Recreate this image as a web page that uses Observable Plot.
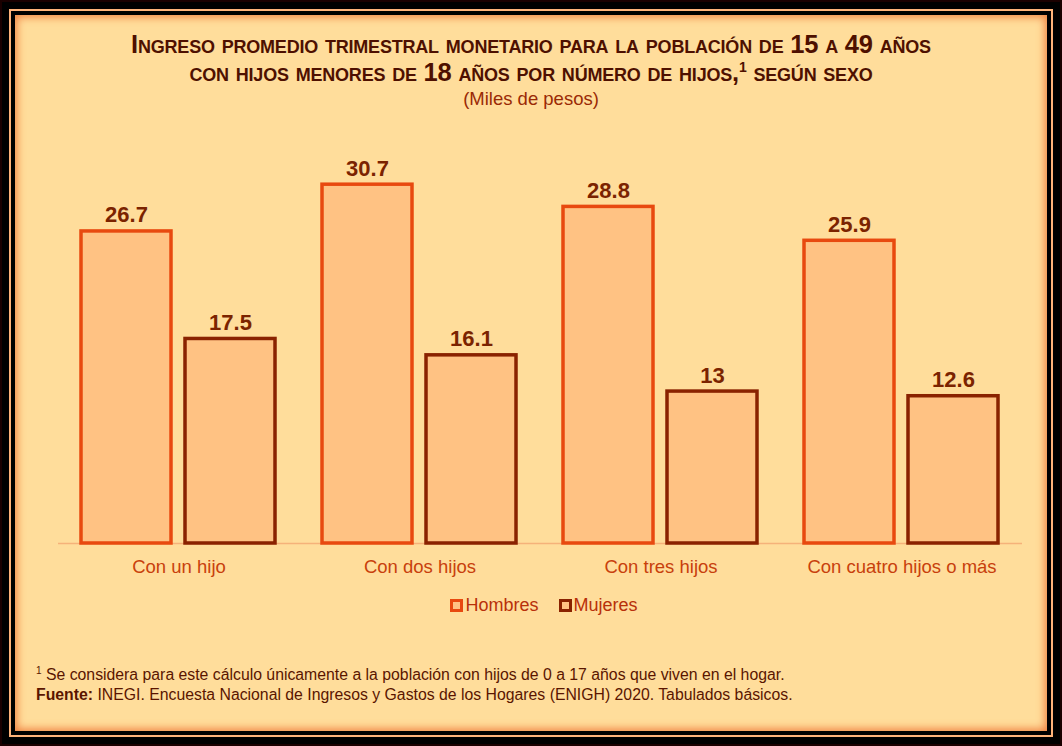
<!DOCTYPE html>
<html>
<head>
<meta charset="utf-8">
<script src="https://cdn.jsdelivr.net/npm/d3@7"></script>
<script src="https://cdn.jsdelivr.net/npm/@observablehq/plot@0.6"></script>
<style>
  html, body { margin: 0; padding: 0; width: 1062px; height: 746px; overflow: hidden; background: #1a0000; font-family: "Liberation Sans", Arial, sans-serif; }
  #frame { position: absolute; left: 2px; top: 2px; width: 1058px; height: 742px; background: #000; }
  #line { position: absolute; left: 7px; top: 7px; right: 7px; bottom: 7px; border: 2px solid #ffb37a; background: #000; }
  #panel { position: absolute; left: 15px; top: 15px; width: 1032px; height: 716px; background: #ffdd9b; box-shadow: inset 0 0 8px 2px #f08040; overflow: hidden; }
  .abs { position: absolute; white-space: nowrap; }
  #pre { left: 0; width: 1062px; text-align: center; top: 1px; font-size: 15px; font-weight: bold; color: #5a1200; clip-path: inset(14px 0 0 0); }
  .title { left: 0; width: 1062px; text-align: center; font-weight: bold; font-variant: small-caps; color: #4e1000; font-size: 25.5px; letter-spacing: -0.2px; }
  #sub { left: 0; width: 1062px; text-align: center; top: 88px; font-size: 18.5px; color: #9a2a05; }
  #legend { left: 13px; width: 1062px; text-align: center; top: 595px; font-size: 18px; color: #b8300a; }
  .sw { display: inline-block; width: 7px; height: 7px; border: 3px solid; background: #ffc283; vertical-align: -1px; margin-right: 2px; }
  .foot { left: 36px; font-size: 15.8px; color: #5a1500; }
  #chart { position: absolute; left: 0; top: 110px; }
</style>
</head>
<body>
<div id="frame"><div id="line"></div></div>
<div id="panel"></div>
<div class="abs" id="pre">Gráfica 5</div>
<div class="abs title" style="top:30px">Ingreso promedio trimestral monetario para la población de 15 a 49 años</div>
<div class="abs title" style="top:58px">con hijos menores de 18 años por número de hijos,<sup style="font-size:14px">1</sup> según sexo</div>
<div class="abs" id="sub">(Miles de pesos)</div>
<div id="chart"></div>
<div class="abs" id="legend"><span class="sw" style="border-color:#e8490f"></span>Hombres&nbsp;&nbsp;&nbsp;&nbsp;<span class="sw" style="border-color:#8a2200"></span>Mujeres</div>
<div class="abs foot" style="top:665px"><sup style="font-size:10px">1</sup> Se considera para este cálculo únicamente a la población con hijos de 0 a 17 años que viven en el hogar.</div>
<div class="abs foot" style="top:686px"><b>Fuente:</b> INEGI. Encuesta Nacional de Ingresos y Gastos de los Hogares (ENIGH) 2020. Tabulados básicos.</div>
<script>
const categories = ["Con un hijo", "Con dos hijos", "Con tres hijos", "Con cuatro hijos o más"];
const sexes = ["Hombres", "Mujeres"];
const hombres = [26.7, 30.7, 28.8, 25.9];
const mujeres = [17.5, 16.1, 13, 12.6];
const strokeColors = ["#e8490f", "#8a2200"];

const rows = [];
categories.forEach((c, i) => {
  rows.push({cat: c, sexo: "Hombres", v: hombres[i]});
  rows.push({cat: c, sexo: "Mujeres", v: mujeres[i]});
});

const chart = Plot.plot({
  width: 1062,
  height: 480,
  marginLeft: 56,
  marginRight: 39,
  marginTop: 59,
  marginBottom: 47,
  style: {background: "transparent", fontFamily: "Liberation Sans, Arial, sans-serif"},
  fx: {domain: categories, padding: 0, label: null, axis: "bottom", tickSize: 0, tickPadding: 16},
  x: {domain: sexes, axis: null, paddingInner: 0.133, paddingOuter: 0.225},
  y: {domain: [0, 32], axis: null},
  color: {domain: sexes, range: strokeColors},
  marks: [
    Plot.ruleY([0], {stroke: "#f5b27a", strokeWidth: 1.5}),
    Plot.barY(rows, {fx: "cat", x: "sexo", y: "v", fill: "#ffc283", stroke: "sexo", strokeWidth: 3.5}),
    Plot.text(rows, {fx: "cat", x: "sexo", y: "v", text: d => String(d.v), dy: -9, lineAnchor: "bottom", fontSize: 22, fontWeight: "bold", fill: "#7b2300"})
  ]
});
d3.select(chart).selectAll("g[aria-label^='fx-axis'] text").attr("fill", "#c8400c").style("font-size", "18.5px");
document.getElementById("chart").appendChild(chart);
</script>
</body>
</html>
